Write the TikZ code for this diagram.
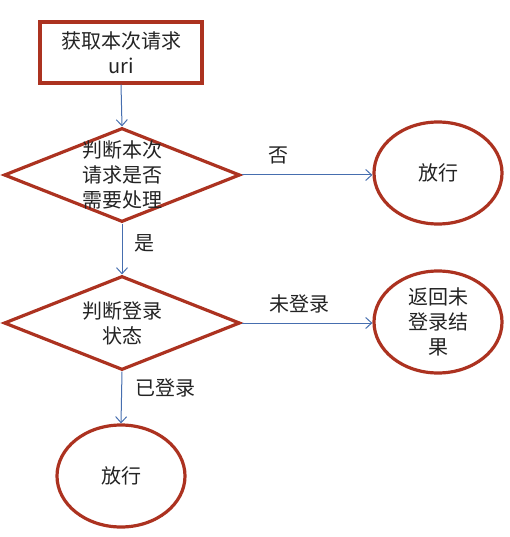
\documentclass[tikz,border=0pt]{standalone}
\usepackage{fontspec}
\setmainfont{Noto Sans CJK SC}
\usetikzlibrary{shapes.geometric,arrows.meta}
\definecolor{brd}{RGB}{172,50,32}
\definecolor{arr}{RGB}{70,110,175}
\definecolor{txt}{RGB}{35,35,35}
\begin{document}
\begin{tikzpicture}[x=1pt,y=-1pt,
  every node/.style={font=\fontsize{20}{25}\selectfont, text=txt},
  box/.style={draw=brd, line width=3.2pt, minimum width=162pt, minimum height=61pt, inner sep=0pt, align=center},
  dia/.style={draw=brd, line width=3.2pt, diamond, aspect=2.5, inner sep=0pt, minimum width=236pt, minimum height=94pt},
  ell/.style={draw=brd, line width=3.2pt, ellipse, inner sep=0pt, minimum width=128pt, minimum height=102pt, align=center},
  dtext/.style={align=center, inner sep=0pt},
  conn/.style={draw=arr, line width=1pt, -{Straight Barb[length=6pt,width=11pt,line width=1pt]}},
  lbl/.style={font=\fontsize{20}{24}\selectfont}]
\useasboundingbox (0,0) rectangle (509,537);
\node[box] (b) at (121,52.5) {获取本次请求\\uri};
\node[dia] (d1) at (122,175) {};
\node[dtext] (t1) at (d1) {判断本次\\请求是否\\需要处理};
\node[ell] (e1) at (438,173) {放行};
\node[dia] (d2) at (122,323) {};
\node[dtext] (t2) at (d2) {判断登录\\状态};
\node[ell] (e2) at (438,322) {返回未\\登录结\\果};
\node[ell] (e3) at (121,476) {放行};
\draw[conn] (b.south) -- (d1.north);
\draw[conn] (d1.east) -- (e1.west |- d1.east);
\draw[conn] (d1.south) -- (d2.north);
\draw[conn] (d2.east) -- (e2.west |- d2.east);
\draw[conn] (d2.south) -- (e3.north);
\node[lbl] (l1) at (278,155) {否};
\node[lbl] (l2) at (144,243) {是};
\node[lbl] (l3) at (299,304) {未登录};
\node[lbl] (l4) at (165,388) {已登录};
\end{tikzpicture}
\end{document}
